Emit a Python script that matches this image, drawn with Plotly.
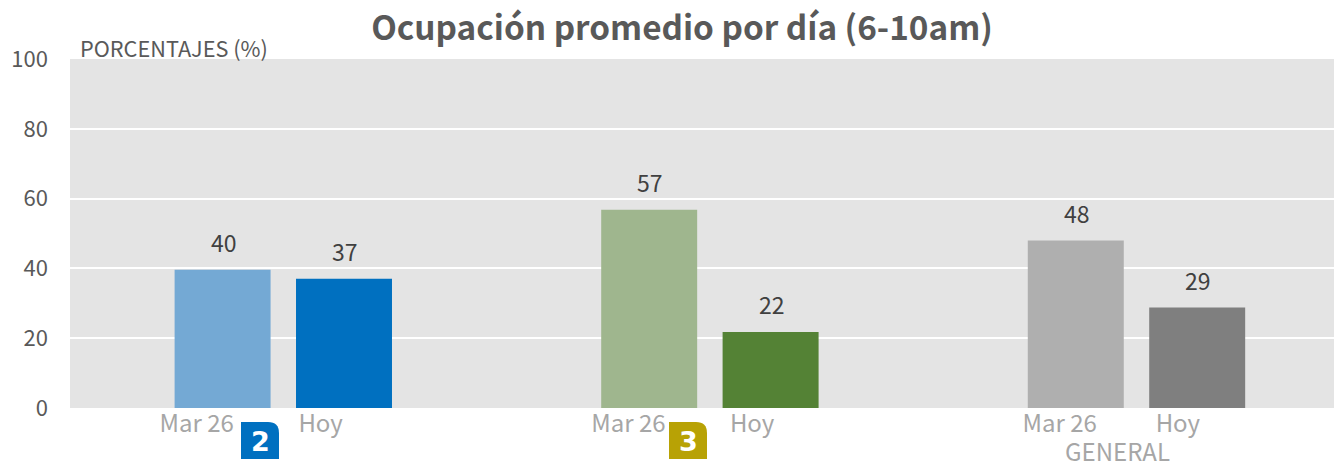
import plotly.graph_objects as go

TITLE = "Ocupación promedio por día (6-10am)"
GROUP_X = [0, 1, 2]
MAR26 = [39.6, 56.8, 48]
HOY = [37, 21.8, 28.8]
MAR26_COLORS = ["#74a9d4", "#9fb68e", "#afafaf"]
HOY_COLORS = ["#0070c0", "#548235", "#7f7f7f"]
Y_TICKS = [0, 20, 40, 60, 80, 100]
TICK_X = [-0.203, 0.0875, 0.809, 1.099, 1.82, 2.097]
TICK_TEXT = ["Mar 26", "Hoy", "Mar 26", "Hoy", "Mar 26", "Hoy"]

FONT = "Noto Sans CJK JP"
OFFSET = 0.1423
BAR_W = 0.225

fig = go.Figure()
for name, vals, cols, sign in [("Mar 26", MAR26, MAR26_COLORS, -1), ("Hoy", HOY, HOY_COLORS, 1)]:
    xs = [g + sign * OFFSET for g in GROUP_X]
    fig.add_bar(x=xs, y=vals, width=BAR_W, name=name, marker=dict(color=cols, line=dict(width=0)), showlegend=False)
    for x, v in zip(xs, vals):
        fig.add_annotation(x=x, y=v, xref="x", yref="y", text=str(round(v)), showarrow=False, yanchor="middle",
                           yshift=27.5, xshift=1, font=dict(family=FONT, size=23, color="#404040"))

ann = dict(showarrow=False, xref="paper", yref="paper")
W, H = 1264.0, 349.0
def px(x): return (x - 70) / W
def py(y): return (408 - y) / H

fig.add_annotation(x=px(78), y=py(47.5), text="PORCENTAJES (%)", xanchor="left", yanchor="middle",
                   font=dict(family=FONT, size=21.7, color="#595959"), **ann)
fig.add_annotation(x=px(1117.5), y=py(450), text="GENERAL", xanchor="center", yanchor="middle",
                   font=dict(family=FONT, size=24, color="#a6a6a6"), **ann)

for x0, color, digit in [(241, "#0070c0", "2"), (669, "#b8a205", "3")]:
    x1 = x0 + 38
    y0, y1, r = 422, 459, 11
    path = (f"M {px(x0)} {py(y0)} L {px(x1 - r)} {py(y0)} Q {px(x1)} {py(y0)} {px(x1)} {py(y0 + r)} "
            f"L {px(x1)} {py(y1)} L {px(x0)} {py(y1)} Z")
    fig.add_shape(type="path", path=path, xref="paper", yref="paper", fillcolor=color, line=dict(width=0))
    fig.add_annotation(x=px(x0 + 19), y=py(441), text=f"<b>{digit}</b>", xanchor="center", yanchor="middle",
                       font=dict(family="DejaVu Sans", size=27, color="white"), **ann)

fig.update_layout(
    width=1334, height=462,
    margin=dict(l=70, r=0, t=59, b=54),
    paper_bgcolor="white", plot_bgcolor="#e4e4e4",
    title=dict(text=f"<b>{TITLE}</b>", x=682 / 1334, xanchor="center", y=1 - 28 / 462, yanchor="middle",
               font=dict(family=FONT, size=33.3, color="#595959")),
    xaxis=dict(range=[-0.5, 2.463], tickmode="array", tickvals=TICK_X, ticktext=TICK_TEXT, showgrid=False,
               zeroline=False, ticks="", ticklabelstandoff=-1, tickfont=dict(family=FONT, size=24, color="#a6a6a6")),
    yaxis=dict(range=[0, 100], tickmode="array", tickvals=Y_TICKS, showgrid=True, gridcolor="white", gridwidth=1.5,
               zeroline=False, ticks="", ticklabelstandoff=21, tickfont=dict(family=FONT, size=22, color="#595959")),
)
fig.write_html("out.html", config={"displayModeBar": False}, post_script="document.body.style.margin='0';")
